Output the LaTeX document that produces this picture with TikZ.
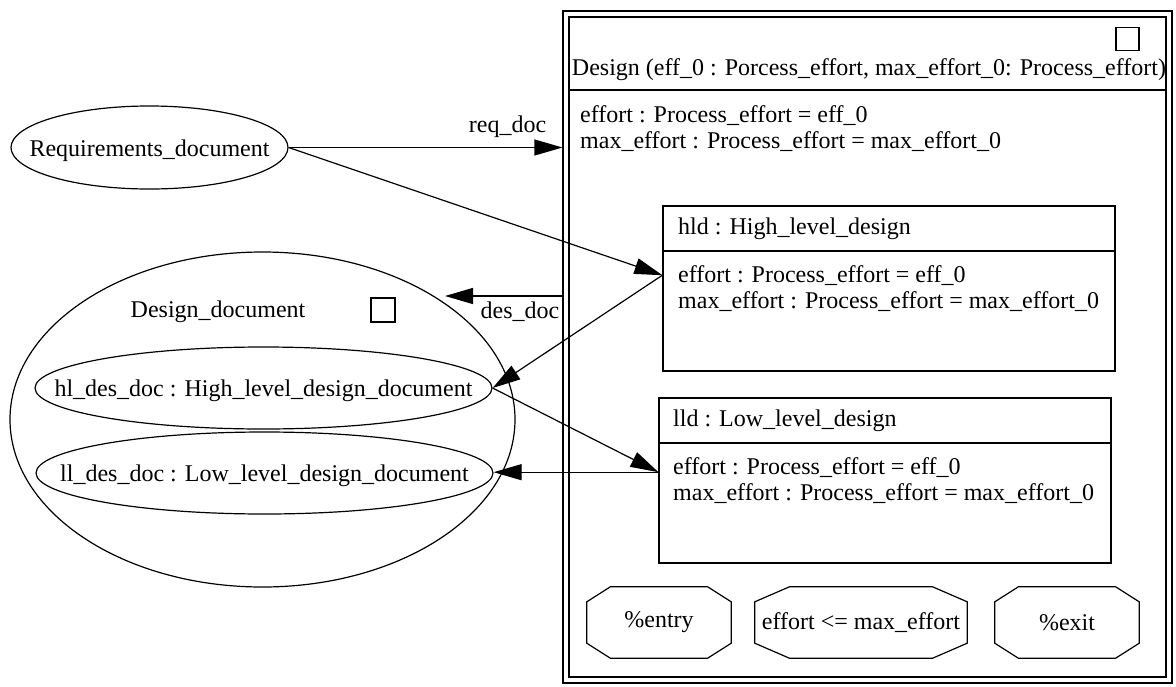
\documentclass[tikz,border=0pt]{standalone}
\usepackage{fontspec}
\setmainfont{Liberation Serif}
\usetikzlibrary{shapes.geometric,arrows.meta,calc}

\tikzset{
  every node/.style={font=\fontsize{24}{26}\selectfont},
  line/.style={line width=1.2pt},
  oval/.style={ellipse, draw, line width=1.2pt, inner sep=0pt},
  box/.style={rectangle, draw, line width=1.2pt, inner sep=0pt},
  label/.style={inner sep=0pt},
  ovaltext/.style={inner sep=0pt, yshift=-3pt},
  txt/.style={inner sep=0pt, anchor=west},
  octbox/.style={rectangle, inner sep=0pt, minimum height=71pt},
  flow/.style={line width=1.2pt, -{Triangle[length=28pt,width=16pt]}},
}

\begin{document}
\begin{tikzpicture}[x=1pt,y=-1pt]
\useasboundingbox (0,0) rectangle (1176,686);

% --- left side: documents ---
\node[oval, minimum width=277pt, minimum height=83pt] (req) at (149.5,147.5) {};
\node[ovaltext] (reqtext) at (req.center) {Requirements\_document};

\node[oval, minimum width=505pt, minimum height=335pt] (dd) at (262.5,419.5) {};
\node[label] (ddlabel) at (218,312) {Design\_document};
\node[box, minimum size=24pt] (ddsq) at (383,310) {};
\node[oval, minimum width=457pt, minimum height=82pt] (hl) at (263.5,388) {};
\node[ovaltext] (hltext) at (hl.center) {hl\_des\_doc : High\_level\_design\_document};
\node[oval, minimum width=457pt, minimum height=82pt] (ll) at (264.5,473) {};
\node[ovaltext] (lltext) at (ll.center) {ll\_des\_doc : Low\_level\_design\_document};

% --- right side: Design process ---
\node[box, minimum width=609pt, minimum height=672pt] (design) at (867.5,347) {};
\node[box, minimum width=597pt, minimum height=660pt] (designin) at (867.5,347) {};
\node[box, minimum size=23pt] (dsq) at (1127.5,39) {};
\node[label] (dtitle) at (869,70) {Design (eff\_0 : Porcess\_effort, max\_effort\_0: Process\_effort)};
\draw[line] (designin.west |- 0,90) -- (designin.east |- 0,90);
\node[txt] (dattr1) at (580,116) {effort : Process\_effort = eff\_0};
\node[txt] (dattr2) at (580,142) {max\_effort : Process\_effort = max\_effort\_0};

% hld sub-process
\node[box, minimum width=452pt, minimum height=165pt] (hld) at (889,288.5) {};
\node[txt] (hldtitle) at (678,229) {hld : High\_level\_design};
\draw[line] (hld.west |- 0,251) -- (hld.east |- 0,251);
\node[txt] (hldattr1) at (678,276) {effort : Process\_effort = eff\_0};
\node[txt] (hldattr2) at (678,302) {max\_effort : Process\_effort = max\_effort\_0};

% lld sub-process
\node[box, minimum width=452pt, minimum height=165pt] (lld) at (885,480.5) {};
\node[txt] (lldtitle) at (673,421) {lld : Low\_level\_design};
\draw[line] (lld.west |- 0,443) -- (lld.east |- 0,443);
\node[txt] (lldattr1) at (673,468) {effort : Process\_effort = eff\_0};
\node[txt] (lldattr2) at (673,494) {max\_effort : Process\_effort = max\_effort\_0};

% entry / guard / exit octagons
\node[octbox, minimum width=144pt] (entry) at (659,622.5) {\%entry};
\node[octbox, minimum width=212pt] (guard) at (861,622.5) {effort <= max\_effort};
\node[octbox, minimum width=144pt] (exit) at (1067,622.5) {\%exit};
\foreach \n in {entry,guard,exit} {
  \draw[line, line join=miter]
    ($(\n.north west)!0.163!(\n.north east)$) -- ($(\n.north east)!0.163!(\n.north west)$)
    -- ($(\n.north east)!0.21!(\n.south east)$) -- ($(\n.south east)!0.21!(\n.north east)$)
    -- ($(\n.south east)!0.163!(\n.south west)$) -- ($(\n.south west)!0.163!(\n.south east)$)
    -- ($(\n.south west)!0.21!(\n.north west)$) -- ($(\n.north west)!0.21!(\n.south west)$)
    -- cycle;
}

% port coordinates
\coordinate (hldport) at ($(hld.north west)!0.42!(hld.south west)$);
\coordinate (lldport) at ($(lld.north west)!0.45!(lld.south west)$);
\coordinate (desout) at (design.west |- 0,296);
\coordinate (ddin) at (445,296);

% connectors
\draw[flow] (req.east) -- (req.east -| design.west) node[pos=0.8, above=9pt, inner sep=0pt] (reqlbl) {req\_doc};
\draw[flow] (req.east) -- (hldport);
\draw[flow] (hldport) -- (hl.east);
\draw[flow] (hl.east) -- (lldport);
\draw[flow] (lldport) -- (lldport -| ll.east);
\draw[flow] (desout) -- (ddin);
\node[label] (deslbl) at (520,312) {des\_doc};
\end{tikzpicture}
\end{document}
